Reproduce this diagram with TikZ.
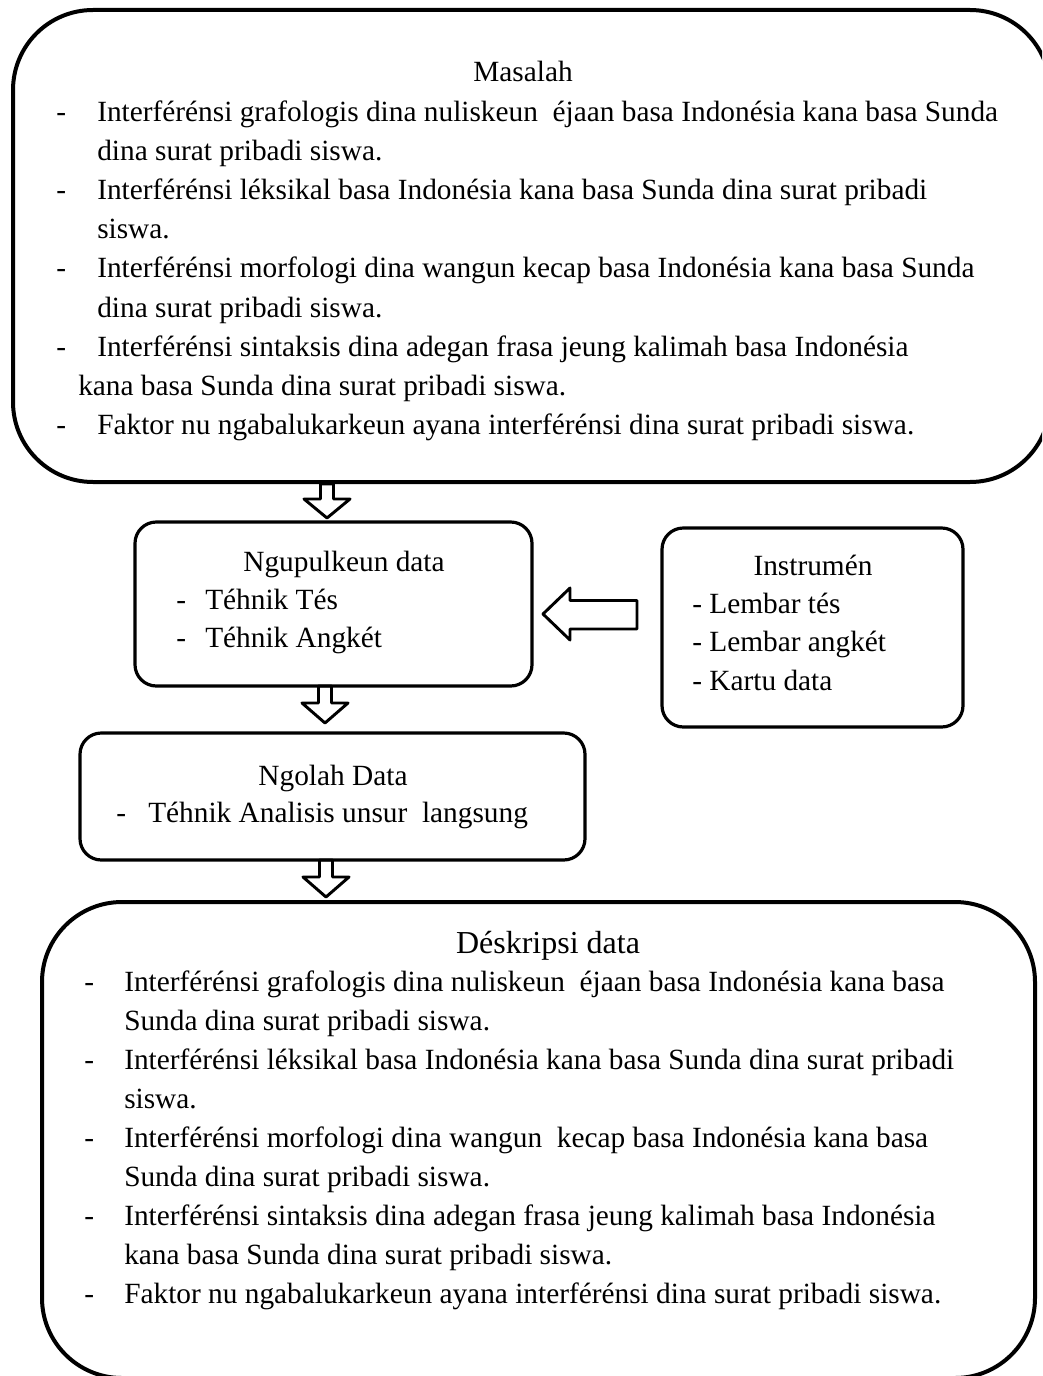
\documentclass[tikz,border=0pt]{standalone}
\usepackage{fontspec}
\setmainfont{Liberation Serif}
\usetikzlibrary{calc}
\tikzset{
  bigbox/.style={draw, line width=3pt, rounded corners=60pt, inner sep=0pt, outer sep=0pt},
  smallbox/.style={draw, line width=2.4pt, rounded corners=16pt, inner sep=0pt, outer sep=0pt},
  txt/.style={anchor=base west, inner sep=0pt, font=\fontsize{22}{26}\selectfont},
  ttl/.style={anchor=base, inner sep=0pt, font=\fontsize{22}{26}\selectfont},
  blockarrow/.style={draw, line width=2.2pt, line join=round},
}
\begin{document}
\begin{tikzpicture}[x=0.75pt,y=-0.75pt]
\clip (0,0) rectangle (1042,1376);
% boxes
\node[bigbox, minimum width=777.75pt, minimum height=354pt] (masalah) at (531.5,246) {};
\node[bigbox, minimum width=744.75pt, minimum height=357pt] (deskripsi) at (538.5,1140) {};
\node[smallbox, minimum width=297.75pt, minimum height=123pt] (ngup) at (333.5,604) {};
\node[smallbox, minimum width=225.75pt, minimum height=149.25pt] (instr) at (812.5,627.5) {};
\node[smallbox, minimum width=378.75pt, minimum height=95.25pt] (ngolah) at (332.5,796.5) {};

% top box text
\node[ttl] (m0) at (523,82) {Masalah};
\node[txt] (md1) at (56,122) {-};
\node[txt] (md3) at (56,200) {-};
\node[txt] (md5) at (56,278) {-};
\node[txt] (md7) at (56,356) {-};
\node[txt] (md9) at (56,434) {-};
\node[txt] (m1) at (97,122) {Interférénsi grafologis dina nuliskeun~ éjaan basa Indonésia kana basa Sunda};
\node[txt] (m2) at (97,161) {dina surat pribadi siswa.};
\node[txt] (m3) at (97,200) {Interférénsi léksikal basa Indonésia kana basa Sunda dina surat pribadi};
\node[txt] (m4) at (97,239) {siswa.};
\node[txt] (m5) at (97,278) {Interférénsi morfologi dina wangun kecap basa Indonésia kana basa Sunda};
\node[txt] (m6) at (97,317) {dina surat pribadi siswa.};
\node[txt] (m7) at (97,356) {Interférénsi sintaksis dina adegan frasa jeung kalimah basa Indonésia};
\node[txt] (m8) at (78,395) {kana basa Sunda dina surat pribadi siswa.};
\node[txt] (m9) at (97,434) {Faktor nu ngabalukarkeun ayana interférénsi dina surat pribadi siswa.};

% Ngupulkeun data
\node[ttl] (n0) at (344,571) {Ngupulkeun data};
\node[txt] (nd1) at (176,609) {-};
\node[txt] (nd2) at (176,647) {-};
\node[txt] (n1) at (205,609) {Téhnik Tés};
\node[txt] (n2) at (205,647) {Téhnik Angkét};

% Instrumen
\node[ttl] (i0) at (813,575) {Instrumén};
\node[txt] (i1) at (692,613) {- Lembar tés};
\node[txt] (i2) at (692,651) {- Lembar angkét};
\node[txt] (i3) at (692,690) {- Kartu data};

% Ngolah data
\node[ttl] (o0) at (333,785) {Ngolah Data};
\node[txt] (od1) at (116,822) {-};
\node[txt] (o1) at (148,822) {Téhnik Analisis unsur~ langsung};

% Deskripsi data
\node[anchor=base, inner sep=0pt, font=\fontsize{24}{28}\selectfont] (d0) at (548,953) {Déskripsi data};
\node[txt] (dd1) at (84,991) {-};
\node[txt] (dd3) at (84,1069) {-};
\node[txt] (dd5) at (84,1147) {-};
\node[txt] (dd7) at (84,1225) {-};
\node[txt] (dd9) at (84,1303) {-};
\node[txt] (d1) at (124,991) {Interférénsi grafologis dina nuliskeun~ éjaan basa Indonésia kana basa};
\node[txt] (d2) at (124,1030) {Sunda dina surat pribadi siswa.};
\node[txt] (d3) at (124,1069) {Interférénsi léksikal basa Indonésia kana basa Sunda dina surat pribadi};
\node[txt] (d4) at (124,1108) {siswa.};
\node[txt] (d5) at (124,1147) {Interférénsi morfologi dina wangun~ kecap basa Indonésia kana basa};
\node[txt] (d6) at (124,1186) {Sunda dina surat pribadi siswa.};
\node[txt] (d7) at (124,1225) {Interférénsi sintaksis dina adegan frasa jeung kalimah basa Indonésia};
\node[txt] (d8) at (124,1264) {kana basa Sunda dina surat pribadi siswa.};
\node[txt] (d9) at (124,1303) {Faktor nu ngabalukarkeun ayana interférénsi dina surat pribadi siswa.};

% block arrows down
\draw[blockarrow] (320.5,484) -- (320.5,499) -- (304,499) -- (327,518) -- (350,499) -- (333.5,499) -- (333.5,484) -- cycle;
\draw[blockarrow] (318.5,686) -- (318.5,703) -- (302,703) -- (325,723) -- (348,703) -- (331.5,703) -- (331.5,686) -- cycle;
\draw[blockarrow] (319.5,860) -- (319.5,877) -- (303,877) -- (326,897) -- (349,877) -- (332.5,877) -- (332.5,860) -- cycle;
% block arrow left
\draw[blockarrow] (543,614) -- (570,588) -- (570,600.5) -- (637,600.5) -- (637,629) -- (570,629) -- (570,640) -- cycle;
\end{tikzpicture}
\end{document}
